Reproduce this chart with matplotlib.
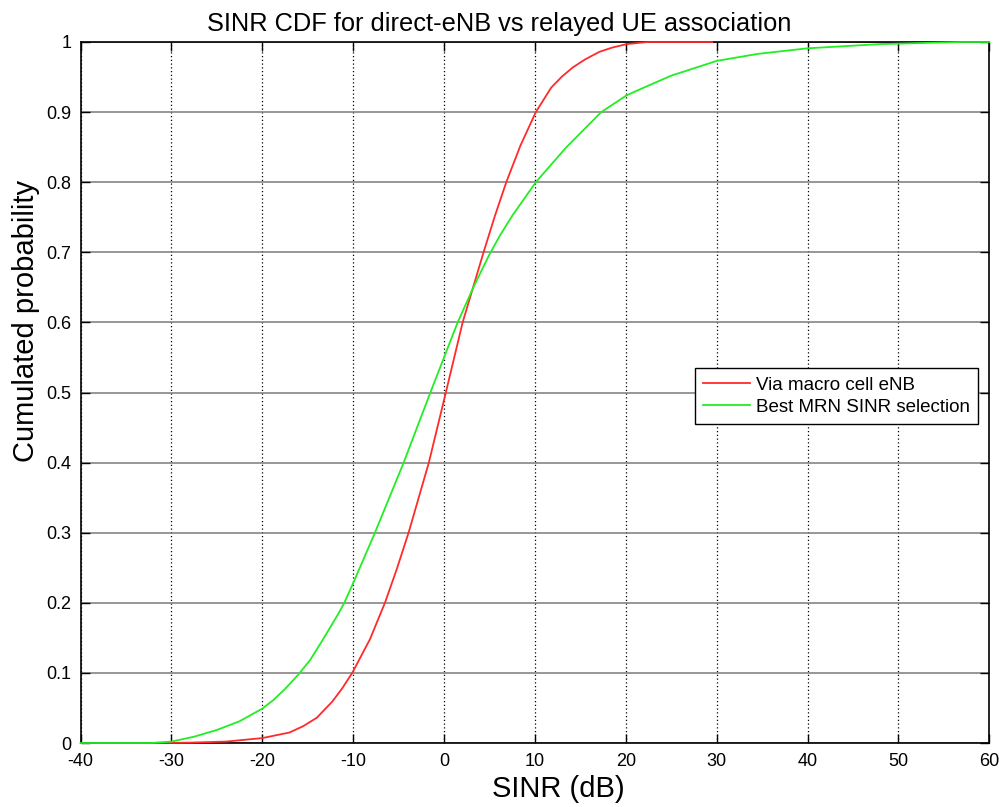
import matplotlib
matplotlib.use("Agg")
import matplotlib.pyplot as plt

plt.rcParams['font.family'] = ['Liberation Sans', 'DejaVu Sans']
plt.rcParams['axes.unicode_minus'] = False

# Data (SINR in dB, cumulative probability)
macro_x = [-32, -28, -24, -20, -17, -15.5, -14, -12.3, -11.2, -10.1, -8.15, -6.5, -5.2, -3.9, -1.67,
           0.2, 2.05, 4.35, 5.6, 6.85, 8.4, 10.1, 11.8, 13, 14.2, 15.5, 17.1, 18.5, 20.1, 22.4, 29.5]
macro_y = [0.0, 0.0005, 0.002, 0.007, 0.015, 0.024, 0.036, 0.059, 0.078, 0.100, 0.148, 0.200, 0.248, 0.300, 0.400,
           0.500, 0.600, 0.700, 0.752, 0.800, 0.852, 0.900, 0.935, 0.951, 0.964, 0.975, 0.986, 0.992, 0.997, 1.0, 1.0]

mrn_x = [-40, -32.3, -30, -27.5, -25, -22.5, -20, -18.8, -17.5, -16, -14.7, -13.4, -11.6, -10.97, -10,
         -7.6, -4.44, -1.5, 1.5, 3.3, 5.0, 6.2, 7.5, 10.1, 13.4, 17.3, 20.1, 22, 25, 30, 34.5, 40, 48, 56.9, 60]
mrn_y = [0.0, 0.0, 0.002, 0.009, 0.0186, 0.031, 0.049, 0.061, 0.077, 0.098, 0.119, 0.146, 0.185, 0.200, 0.228,
         0.300, 0.400, 0.500, 0.600, 0.652, 0.697, 0.725, 0.752, 0.800, 0.849, 0.900, 0.924, 0.935, 0.952, 0.973, 0.983, 0.991, 0.997, 1.0, 1.0]

labels = ["Via macro cell eNB", "Best MRN SINR selection"]
xticks = list(range(-40, 61, 10))
yticks = [0, 0.1, 0.2, 0.3, 0.4, 0.5, 0.6, 0.7, 0.8, 0.9, 1]
ytick_labels = ["0", "0.1", "0.2", "0.3", "0.4", "0.5", "0.6", "0.7", "0.8", "0.9", "1"]
title = "SINR CDF for direct-eNB vs relayed UE association"
xlabel = "SINR (dB)"
ylabel = "Cumulated probability"

W, H = 999, 807
fig = plt.figure(figsize=(W/100, H/100), dpi=100)
L, R, T, B = 80.5, 989.3, 42.0, 743.0
ax = fig.add_axes([L/W, 1 - B/H, (R-L)/W, (B-T)/H])

ax.plot(macro_x, macro_y, color='#ff2a2a', lw=1.3, label=labels[0], zorder=3, clip_on=False)
ax.plot(mrn_x, mrn_y, color='#22ee22', lw=1.3, label=labels[1], zorder=3, clip_on=False)

ax.set_xlim(-40, 60)
ax.set_ylim(0, 1)
ax.set_xticks(xticks)
ax.set_yticks(yticks)
ax.set_yticklabels(ytick_labels)
ax.tick_params(direction='in', top=True, right=True, labelsize=13, length=6.5, width=1.0)
ax.tick_params(axis='x', pad=7)
ax.tick_params(axis='y', pad=6.5)

# horizontal grid solid gray, vertical grid dotted black
ax.yaxis.grid(True, color='#7a7a7a', linestyle='-', linewidth=1.1)
ax.xaxis.grid(True, color='black', linestyle=(0, (1, 2)), linewidth=0.9)
ax.set_axisbelow(True)
for s in ax.spines.values():
    s.set_linewidth(1.2)
    s.set_zorder(2.5)

fig.text(0.5, 1 - 31/H, title, fontsize=18.3, ha='center', va='baseline')
fig.text(558/W, 1 - 797/H, xlabel, fontsize=21, ha='center', va='baseline')
fig.text(26/W, 1 - 320.5/H, ylabel, fontsize=21, ha='center', va='center', rotation=90)

leg = ax.legend(loc='upper left', bbox_to_anchor=(0.676, 0.5345), borderaxespad=0,
                fontsize=13.5, fancybox=False, framealpha=1, edgecolor='black',
                handlelength=2.5, handletextpad=0.3, labelspacing=0.25, borderpad=0.45)
leg.get_frame().set_linewidth(1.0)
leg.set_zorder(5)

fig.savefig("out.png", dpi=100)
